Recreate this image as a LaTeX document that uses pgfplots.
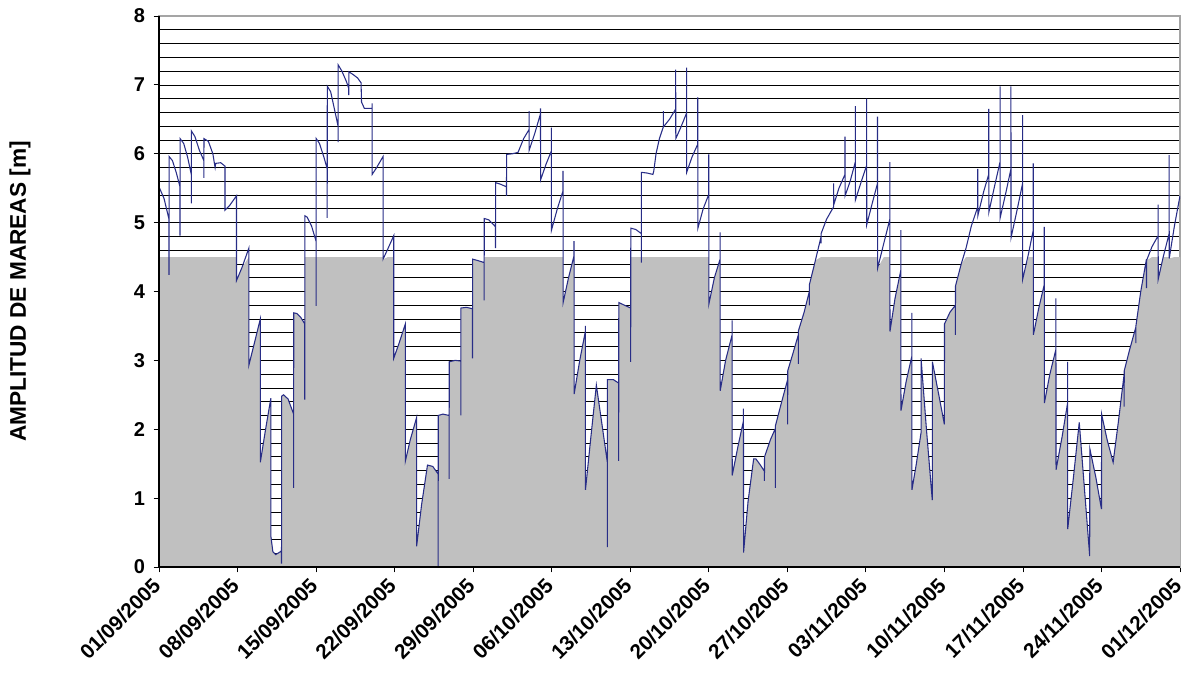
\documentclass[border=0pt]{standalone}
\usepackage{fontspec}
\setmainfont{Liberation Sans}
\usepackage{pgfplots}
\usepackage{pgfplotstable}
\pgfplotsset{compat=1.18}
\definecolor{areagray}{RGB}{192,192,192}
\definecolor{tideblue}{RGB}{40,45,135}
\definecolor{framegray}{RGB}{165,165,165}

% amplitud de marea; d = dias desde 01/09/2005
\pgfplotstableread{
d y
0.00 5.52
0.45 5.35
0.89 5.05
0.89 4.24
0.90 5.96
1.20 5.90
1.55 5.72
1.87 5.52
1.87 4.81
1.88 6.22
2.20 6.15
2.55 5.95
2.88 5.70
2.88 5.28
2.89 6.33
3.20 6.25
3.60 6.05
4.00 5.90
4.00 5.65
4.01 6.22
4.40 6.18
4.80 6.00
5.00 5.80
5.05 5.86
5.50 5.87
5.88 5.82
5.88 5.18
6.30 5.25
6.91 5.39
6.91 4.16
7.40 4.35
8.01 4.63
8.01 2.93
8.50 3.25
9.03 3.60
9.03 1.52
9.50 2.00
9.97 2.45
9.97 0.45
10.15 0.22
10.40 0.18
10.80 0.22
10.92 0.24
10.92 0.05
10.93 2.48
11.10 2.50
11.50 2.44
12.00 2.22
12.00 1.15
12.01 3.69
12.30 3.68
12.65 3.62
12.99 3.53
12.99 2.43
13.00 5.10
13.20 5.08
13.60 4.95
14.00 4.73
14.00 3.79
14.01 6.22
14.30 6.15
14.70 5.95
14.99 5.78
14.99 5.07
15.00 6.98
15.30 6.90
15.70 6.60
15.96 6.40
15.96 6.17
15.97 7.29
16.30 7.20
16.70 7.05
16.91 6.95
16.91 6.85
16.92 7.19
17.30 7.15
17.70 7.10
18.01 7.03
18.05 6.75
18.30 6.66
18.99 6.66
18.99 6.73
19.00 5.70
19.40 5.80
19.97 5.96
19.97 4.47
20.40 4.62
20.92 4.81
20.92 3.03
21.40 3.25
21.96 3.53
21.96 1.54
22.40 1.85
22.96 2.17
22.96 0.30
23.40 0.90
23.93 1.48
24.40 1.46
24.88 1.35
24.88 0.00
24.89 2.20
25.30 2.22
25.86 2.20
25.86 1.28
25.87 2.98
26.40 3.00
26.90 2.99
26.90 2.20
26.91 3.76
27.40 3.77
27.94 3.75
27.94 3.03
27.95 4.47
28.40 4.45
28.98 4.42
28.98 3.87
28.99 5.06
29.40 5.04
29.99 4.94
29.99 4.63
30.00 5.58
30.40 5.56
30.97 5.52
30.97 5.39
30.98 5.99
31.50 6.00
32.00 6.02
32.50 6.22
32.98 6.35
32.98 6.62
32.99 6.05
33.50 6.30
34.00 6.58
34.00 6.66
34.01 5.62
34.50 5.85
34.97 6.04
34.97 6.38
34.98 4.89
35.50 5.20
36.01 5.46
36.01 5.75
36.02 3.84
36.50 4.20
36.99 4.52
36.99 4.73
37.00 2.51
37.50 3.00
38.00 3.42
38.00 3.50
38.01 1.12
38.50 1.90
38.98 2.64
39.50 2.05
39.96 1.52
39.96 0.29
39.97 2.72
40.50 2.72
40.97 2.67
40.97 1.54
40.98 3.84
41.50 3.80
42.04 3.76
42.04 2.98
42.05 4.92
42.50 4.90
42.99 4.84
42.99 4.42
43.00 5.73
43.50 5.72
44.02 5.70
44.10 5.75
44.30 6.00
44.60 6.22
44.95 6.39
44.95 6.62
44.96 6.39
45.50 6.50
46.05 6.65
46.05 7.22
46.06 6.22
46.50 6.38
47.02 6.59
47.02 7.25
47.03 5.73
47.50 5.95
48.02 6.14
48.02 6.82
48.03 4.92
48.50 5.20
49.00 5.41
49.00 5.99
49.01 3.82
49.50 4.20
50.01 4.47
50.01 4.86
50.02 2.56
50.50 3.00
51.08 3.37
51.08 3.58
51.09 1.33
51.60 1.75
52.09 2.12
52.09 2.30
52.10 0.21
52.50 0.95
53.00 1.57
53.20 1.57
53.60 1.48
53.96 1.39
53.96 1.25
53.97 1.60
54.50 1.85
54.93 2.01
54.93 1.15
54.94 2.05
55.50 2.40
56.03 2.72
56.03 2.07
56.04 2.85
56.50 3.10
56.98 3.37
56.98 2.95
56.99 3.43
57.50 3.70
57.96 4.00
57.96 3.80
57.97 4.10
58.50 4.45
59.00 4.79
59.00 4.70
59.01 4.84
59.50 5.05
60.13 5.23
60.13 5.57
60.14 5.26
60.60 5.50
61.14 5.70
61.14 6.25
61.15 5.39
61.60 5.60
62.06 5.88
62.06 6.69
62.07 5.33
62.60 5.60
63.07 5.83
63.07 6.80
63.08 4.97
63.60 5.30
64.04 5.57
64.04 6.54
64.05 4.34
64.60 4.70
65.14 5.05
65.14 5.88
65.15 3.42
65.60 3.90
66.12 4.31
66.12 4.89
66.13 2.27
66.60 2.70
67.10 3.06
67.10 3.69
67.11 1.12
67.50 1.50
67.92 1.95
67.92 3.03
68.40 2.00
68.92 0.97
68.93 2.98
69.50 2.50
70.00 2.07
70.01 3.53
70.50 3.70
70.98 3.80
70.98 3.37
70.99 4.08
71.50 4.40
71.93 4.63
72.40 4.95
72.97 5.23
72.97 5.78
72.98 5.10
73.50 5.45
73.95 5.70
73.95 6.65
73.96 5.15
74.50 5.55
74.96 5.88
74.96 6.98
74.97 5.07
75.50 5.45
75.93 5.78
75.93 6.98
75.94 4.78
76.50 5.20
76.97 5.57
76.97 6.56
76.98 4.18
77.50 4.55
77.92 4.89
77.92 5.86
77.93 3.37
78.40 3.75
78.90 4.10
78.90 4.94
78.91 2.38
79.40 2.80
79.94 3.16
79.94 3.90
79.95 1.41
80.50 1.90
80.98 2.38
80.98 2.98
80.99 0.55
81.50 1.30
82.02 2.10
82.50 1.10
82.95 0.16
82.96 1.72
83.50 1.30
84.00 0.84
84.01 2.22
84.50 1.85
85.04 1.52
85.50 2.10
86.02 2.80
86.02 2.33
86.03 2.85
86.50 3.15
87.06 3.48
87.06 3.25
87.07 3.50
87.50 4.00
88.01 4.47
88.01 4.05
88.02 4.45
88.50 4.65
89.05 4.81
89.05 5.26
89.06 4.18
89.50 4.50
90.03 4.84
90.03 5.98
90.04 4.48
90.50 4.95
91.00 5.39
}\mareas

\begin{document}
\begin{tikzpicture}
\begin{axis}[
  scale only axis, width=765.75pt, height=413.25pt,
  xmin=0, xmax=91, ymin=0, ymax=8,
  xtick={0,7,...,91},
  xticklabels={01/09/2005,08/09/2005,15/09/2005,22/09/2005,29/09/2005,06/10/2005,13/10/2005,20/10/2005,27/10/2005,03/11/2005,10/11/2005,17/11/2005,24/11/2005,01/12/2005},
  ytick={0,1,...,8}, minor y tick num=4,
  ymajorgrids, yminorgrids,
  major grid style={black, line width=0.55pt},
  minor grid style={black, line width=0.55pt},
  tick align=outside, xtick pos=lower, ytick pos=left,
  major tick length=4pt, minor tick length=0pt,
  axis line style={framegray, line width=1pt},
  tick style={black, line width=0.6pt},
  /pgf/number format/assume math mode=true,
  yticklabel style={font=\bfseries\fontsize{15}{17}\selectfont, xshift=-3pt},
  xticklabel style={font=\bfseries\fontsize{15.5}{17}\selectfont, rotate=45, anchor=east, xshift=-3pt, yshift=-4pt},
  ylabel={AMPLITUD DE MAREAS [m]},
  every axis y label/.style={at={(rel axis cs:0,0.5)}, xshift=-104.25pt, rotate=90, anchor=center, font=\bfseries\fontsize{17}{19}\selectfont},
]
\addplot[fill=areagray, draw=none] table[x=d, y expr={min(\thisrow{y},4.5)}] {\mareas} \closedcycle;
\addplot[tideblue, line width=0.8pt] table[x=d, y=y] {\mareas};
\end{axis}
\draw[black, line width=0.8pt] (current axis.north west) -- (current axis.south west) -- (current axis.south east);
\pgfresetboundingbox
\path[use as bounding box] ([xshift=-119.25pt, yshift=-82.5pt]current axis.south west) rectangle ([xshift=6pt, yshift=12pt]current axis.north east);
\end{tikzpicture}
\end{document}
